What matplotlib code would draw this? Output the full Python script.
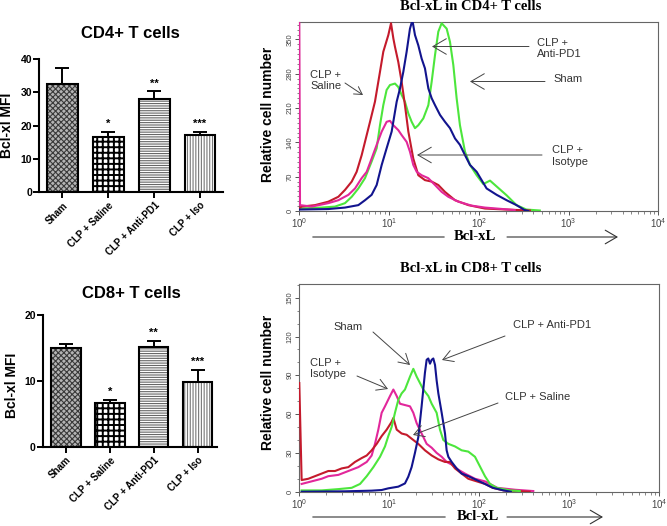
import numpy as np
import matplotlib
matplotlib.use('Agg')
import matplotlib.pyplot as plt
from matplotlib.patches import FancyArrowPatch
from matplotlib.ticker import LogLocator, LogFormatterMathtext, MultipleLocator, NullFormatter

plt.rcParams['font.family'] = ['Liberation Sans', 'DejaVu Sans']
plt.rcParams['mathtext.fontset'] = 'stix'
plt.rcParams['hatch.linewidth'] = 0.8

# ---- bar charts: Bcl-xl MFI ----
groups = ['Sham', 'CLP + Saline', 'CLP + Anti-PD1', 'CLP + Iso']
cd4_mfi = [32.5, 16.6, 28.1, 17.3]
cd4_err = [4.8, 1.5, 2.2, 0.9]
cd8_mfi = [15.0, 6.6, 15.2, 9.9]
cd8_err = [0.7, 0.5, 0.9, 1.8]
stars = ['', '*', '**', '***']

# ---- histograms: log10(Bcl-xL) vs relative cell number ----
cd4_saline_log = [0.0, 0.026, 0.175, 0.323, 0.435, 0.509, 0.584, 0.639, 0.695, 0.751, 0.788, 0.843, 0.899,
                  0.936, 0.992, 1.022, 1.048, 1.066, 1.103, 1.140, 1.177, 1.215, 1.270, 1.326, 1.400, 1.475,
                  1.549, 1.623, 1.735, 1.883, 2.069, 2.30, 2.57]
cd4_saline_n = [6, 9, 12, 19, 29, 43, 60, 80, 114, 155, 182, 223, 284, 325, 359, 383, 352, 335, 304, 264,
                216, 162, 107, 73, 63, 60, 53, 39, 22, 12, 5, 3, 1]
cd4_iso_log = [0.0, 0.008, 0.138, 0.323, 0.435, 0.547, 0.621, 0.695, 0.751, 0.806, 0.862, 0.918, 0.973, 1.010,
               1.048, 1.103, 1.140, 1.196, 1.233, 1.270, 1.308, 1.363, 1.437, 1.512, 1.586, 1.660, 1.772, 1.920,
               2.069, 2.40]
cd4_iso_n = [385, 12, 9, 16, 22, 33, 46, 67, 80, 107, 135, 162, 182, 184, 175, 165, 155, 141, 121, 94,
             80, 73, 67, 53, 39, 29, 19, 11, 7, 2]
cd4_sham_log = [0.0, 0.249, 0.398, 0.509, 0.584, 0.658, 0.732, 0.806, 0.862, 0.899, 0.936, 0.973, 1.010, 1.066,
                1.103, 1.140, 1.177, 1.215, 1.252, 1.289, 1.326, 1.382, 1.438, 1.475, 1.512, 1.549, 1.586, 1.642,
                1.679, 1.716, 1.753, 1.790, 1.846, 1.902, 1.976, 2.050, 2.125, 2.199, 2.310, 2.420, 2.530, 2.680]
cd4_sham_n = [5, 7, 9, 16, 29, 46, 67, 101, 128, 175, 216, 247, 257, 260, 253, 237, 223, 199, 182, 169,
              175, 189, 216, 264, 318, 366, 383, 372, 345, 298, 230, 175, 121, 94, 73, 55, 62, 50, 32, 12, 3, 1]
cd4_pd1_log = [0.0, 0.323, 0.509, 0.658, 0.732, 0.806, 0.862, 0.918, 0.973, 1.029, 1.085, 1.122, 1.159, 1.196,
               1.233, 1.260, 1.289, 1.326, 1.363, 1.400, 1.438, 1.475, 1.512, 1.568, 1.623, 1.679, 1.735, 1.790,
               1.846, 1.902, 1.976, 2.087, 2.199, 2.310, 2.420, 2.510, 2.550]
cd4_pd1_n = [3, 4, 7, 12, 22, 33, 53, 94, 128, 162, 223, 250, 284, 325, 372, 389, 359, 338, 311, 291,
             250, 230, 216, 196, 182, 169, 148, 135, 114, 94, 80, 46, 33, 22, 12, 2, 0]

cd8_saline_log = [0.0, 0.026, 0.100, 0.174, 0.248, 0.322, 0.397, 0.471, 0.545, 0.619, 0.693, 0.749, 0.804,
                  0.860, 0.915, 0.971, 1.026, 1.045, 1.082, 1.137, 1.193, 1.248, 1.322, 1.396, 1.471, 1.545,
                  1.619, 1.674, 1.730, 1.804, 1.878, 1.971, 2.064, 2.150, 2.270, 2.560]
cd8_saline_n = [84, 9, 10, 12, 14, 16, 16, 18, 19, 23, 26, 28, 32, 37, 43, 48, 54, 57, 48, 45,
                44, 41, 37, 32, 28, 25, 23, 23, 18, 14, 10, 8, 6, 3, 1, 0]
cd8_iso_log = [0.026, 0.137, 0.248, 0.322, 0.434, 0.545, 0.656, 0.749, 0.804, 0.841, 0.878, 0.915, 0.952,
               1.008, 1.045, 1.082, 1.119, 1.174, 1.230, 1.267, 1.304, 1.359, 1.415, 1.471, 1.526, 1.582,
               1.637, 1.693, 1.767, 1.841, 1.952, 2.063, 2.200, 2.400, 2.600]
cd8_iso_n = [6, 8, 10, 12, 13, 16, 19, 23, 28, 37, 48, 61, 66, 74, 79, 74, 68, 67, 66, 61,
             53, 45, 37, 34, 30, 27, 23, 21, 17, 14, 10, 8, 3, 1.5, 0.5]
cd8_sham_log = [0.026, 0.248, 0.434, 0.582, 0.675, 0.749, 0.823, 0.897, 0.952, 0.989, 1.026, 1.063, 1.100,
                1.137, 1.174, 1.230, 1.267, 1.304, 1.341, 1.378, 1.434, 1.471, 1.526, 1.563, 1.600, 1.656,
                1.730, 1.804, 1.878, 1.952, 2.026, 2.063, 2.119, 2.193, 2.341, 2.450]
cd8_sham_n = [1, 1, 2, 3, 6, 12, 19, 27, 35, 43, 50, 61, 71, 76, 79, 89, 95, 89, 84, 79,
              74, 68, 61, 48, 40, 37, 35, 32, 31, 27, 17, 12, 6, 3, 1, 0.5]
cd8_pd1_log = [0.026, 0.508, 0.804, 0.915, 0.989, 1.100, 1.174, 1.211, 1.248, 1.285, 1.322, 1.359, 1.396,
               1.415, 1.433, 1.452, 1.471, 1.489, 1.508, 1.526, 1.545, 1.582, 1.619, 1.637, 1.656, 1.693,
               1.748, 1.804, 1.878, 1.971, 2.063, 2.150, 2.270, 2.350]
cd8_pd1_n = [0, 0.3, 0.8, 1.3, 2.6, 3.9, 6.4, 11.6, 19, 30, 42, 66, 92, 102, 103, 99, 102, 103, 98, 86,
             76, 61, 45, 32, 27, 23, 18, 14, 12, 9, 6, 3, 1, 0]

RED, MAGENTA, GREEN, BLUE = '#C41A2C', '#E2279B', '#4CE63C', '#12148E'

W, H = 667, 526
fig = plt.figure(figsize=(W / 100, H / 100), dpi=100)


def fx(px):
    return px / W


def fy(py):
    return 1 - py / H


def box(l, t, r, b):
    return [l / W, 1 - b / H, (r - l) / W, (b - t) / H]


hatches = ['xxxxxx', '+++', '-------', '||||||']
hatch_colors = ['#3a3a3a', '#000000', '#666666', '#777777']
hatch_widths = [0.8, 1.4, 0.8, 0.8]
faces = ['#b4b4b4', 'white', 'white', 'white']


def bar_panel(rect, vals, errs, ymax, xlim, title, title_xy, ylab_xy):
    ax = fig.add_axes(rect)
    x = np.arange(len(groups))
    for xi, v, h, hc, hw, fc in zip(x, vals, hatches, hatch_colors, hatch_widths, faces):
        with plt.rc_context({'hatch.linewidth': hw}):
            ax.bar(xi, v, width=0.67, color=fc, edgecolor=hc, hatch=h, linewidth=0)
    ax.bar(x, vals, width=0.67, fill=False, edgecolor='black', linewidth=1.5)
    ax.errorbar(x, vals, yerr=[np.zeros(len(vals)), errs], fmt='none', ecolor='black',
                elinewidth=1.4, capsize=5, capthick=1.4)
    for xi, v, e, s in zip(x, vals, errs, stars):
        ax.annotate(s, (xi, v + e), xytext=(0, 2), textcoords='offset points',
                    ha='center', va='bottom', fontsize=8, fontweight='bold')
    ax.set_xlim(*xlim)
    ax.set_ylim(0, ymax)
    ax.yaxis.set_major_locator(MultipleLocator(10))
    ax.set_xticks(x)
    ax.set_xticklabels(groups, rotation=45, ha='right', rotation_mode='anchor',
                       fontsize=7, fontweight='bold')
    for lab in ax.get_yticklabels():
        lab.set_fontweight('bold')
    ax.tick_params(axis='y', labelsize=7.5, width=1.4, length=4, pad=1)
    ax.tick_params(axis='x', width=1.4, length=4, pad=2)
    for s in ['top', 'right']:
        ax.spines[s].set_visible(False)
    for s in ['left', 'bottom']:
        ax.spines[s].set_linewidth(1.5)
    fig.text(fx(title_xy[0]), fy(title_xy[1]), title, ha='center', va='center',
             fontsize=12, fontweight='bold')
    fig.text(fx(ylab_xy[0]), fy(ylab_xy[1]), 'Bcl-xl MFI', ha='center', va='center',
             rotation=90, fontsize=10, fontweight='bold')
    return ax


bar_panel(box(39, 59.3, 223, 192), cd4_mfi, cd4_err, 40, (-0.51, 3.5), 'CD4+ T cells', (130, 33), (7, 125))
bar_panel(box(42.7, 315.3, 217, 446.7), cd8_mfi, cd8_err, 20, (-0.53, 3.44), 'CD8+ T cells', (131, 293),
          (12, 385))


def hist_panel(rect, series, ymax, ystep, title, title_y, ylab_y, arrow_y, seg1, seg2, text_x):
    ax = fig.add_axes(rect)
    for lg, n, c in series:
        ax.plot(10 ** np.array(lg), n, color=c, lw=1.5, zorder=3)
    ax.set_xscale('log')
    ax.set_xlim(1, 1e4)
    ax.set_ylim(0, ymax)
    ax.xaxis.set_major_locator(LogLocator(base=10))
    ax.xaxis.set_major_formatter(LogFormatterMathtext())
    ax.xaxis.set_minor_locator(LogLocator(base=10, subs=np.arange(2, 10)))
    ax.xaxis.set_minor_formatter(NullFormatter())
    ax.yaxis.set_major_locator(MultipleLocator(ystep))
    ax.yaxis.set_minor_locator(MultipleLocator(10))
    ax.tick_params(axis='x', which='major', labelsize=7, labelcolor='#444444', length=3, width=0.7,
                   color='#555555', pad=1)
    ax.tick_params(axis='x', which='minor', length=2, width=0.5, color='#555555')
    ax.tick_params(axis='y', which='major', labelsize=5.5, labelcolor='#444444', length=3, width=0.7,
                   color='#555555', pad=1)
    ax.tick_params(axis='y', which='minor', length=1.5, width=0.5, color='#555555')
    for lab in ax.get_yticklabels():
        lab.set_rotation(90)
        lab.set_va('center')
    for s in ax.spines.values():
        s.set_linewidth(0.8)
        s.set_color('#666666')
    fig.text(fx(470.5), fy(title_y), title, ha='center', va='center', fontsize=10.5,
             fontweight='bold', family=['Liberation Serif', 'DejaVu Serif'])
    fig.text(fx(268), fy(ylab_y), 'Relative cell number', ha='center', va='center', rotation=90,
             fontsize=10, fontweight='bold')
    fig.text(fx(text_x), fy(arrow_y), 'Bcl-xL', ha='center', va='center', fontsize=10.5,
             fontweight='bold', family=['Liberation Serif', 'DejaVu Serif'])
    fig.add_artist(FancyArrowPatch((fx(seg1[0]), fy(arrow_y)), (fx(seg1[1]), fy(arrow_y)),
                                   transform=fig.transFigure, arrowstyle='-', lw=0.8, color='#333333'))
    fig.add_artist(FancyArrowPatch((fx(seg2[0]), fy(arrow_y)), (fx(seg2[1]), fy(arrow_y)),
                                   transform=fig.transFigure, arrowstyle='->,head_length=0.6,head_width=0.35',
                                   mutation_scale=14, lw=0.8, color='#333333', shrinkA=0, shrinkB=0))
    return ax


def note(text, txy, a0, a1, scale=12, ha='left'):
    fig.text(fx(txy[0]), fy(txy[1]), text, ha=ha, va='center', fontsize=8, color='#333333',
             linespacing=1.15)
    fig.add_artist(FancyArrowPatch((fx(a0[0]), fy(a0[1])), (fx(a1[0]), fy(a1[1])),
                                   transform=fig.transFigure,
                                   arrowstyle='->,head_length=0.6,head_width=0.35',
                                   mutation_scale=scale, lw=0.7, color='#444444', shrinkA=0, shrinkB=0))


cd4_series = [(cd4_sham_log, cd4_sham_n, GREEN), (cd4_saline_log, cd4_saline_n, RED),
              (cd4_iso_log, cd4_iso_n, MAGENTA), (cd4_pd1_log, cd4_pd1_n, BLUE)]
hist_panel(box(299.3, 22.3, 658.3, 211), cd4_series, 385, 70, 'Bcl-xL in CD4+ T cells', 7, 114,
           237, (310, 447), (507, 618), 475)
note('CLP +\nAnti-PD1', (537, 48.5), (529, 46.5), (432, 46.5), scale=16)
note('Sham', (553, 79.5), (545, 81.5), (470, 81.5), scale=16)
note('CLP +\nIsotype', (552, 156), (542, 155), (417, 155), scale=16)
note('CLP +\nSaline', (310, 80.5), (345, 83), (363, 95), scale=9)

cd8_series = [(cd8_iso_log, cd8_iso_n, MAGENTA), (cd8_saline_log, cd8_saline_n, RED),
              (cd8_sham_log, cd8_sham_n, GREEN), (cd8_pd1_log, cd8_pd1_n, BLUE)]
hist_panel(box(299.3, 284, 659.3, 491.7), cd8_series, 160.6, 30, 'Bcl-xL in CD8+ T cells', 268, 382,
           517, (310, 448), (507, 603), 478)
note('Sham', (333, 327.5), (373, 332), (410, 365))
note('CLP + Anti-PD1', (513, 325), (505, 336), (442, 360))
note('CLP +\nIsotype', (310, 368.5), (357, 376), (388, 389))
note('CLP + Saline', (505, 397), (498, 403), (413, 435))

fig.savefig('out.png', dpi=100)
